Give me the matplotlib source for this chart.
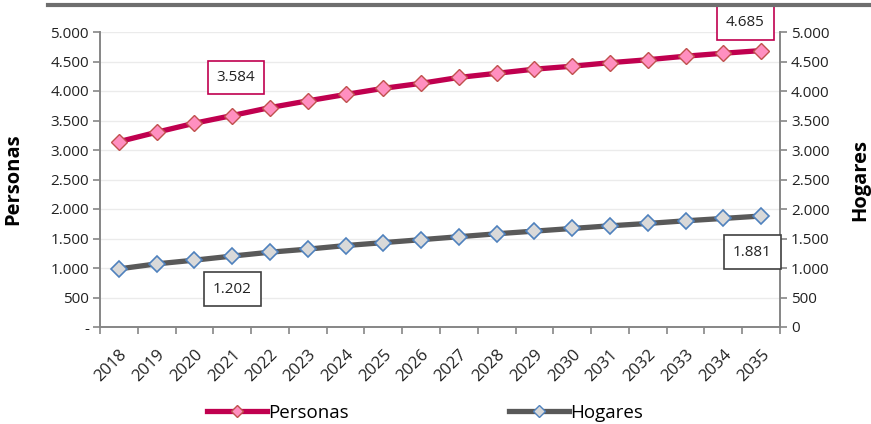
import matplotlib
matplotlib.use("Agg")
import matplotlib.pyplot as plt
from matplotlib.lines import Line2D
from matplotlib.ticker import FixedLocator

plt.rcParams['font.family'] = ['Open Sans', 'DejaVu Sans']

years = [str(y) for y in range(2018, 2036)]
personas = [3141, 3301, 3454, 3584, 3719, 3833, 3941, 4045, 4130, 4230,
            4300, 4370, 4420, 4480, 4530, 4590, 4640, 4685]
hogares = [985, 1070, 1133, 1202, 1268, 1320, 1380, 1430, 1480, 1530,
           1580, 1625, 1670, 1715, 1755, 1800, 1840, 1881]
yticks = [0, 500, 1000, 1500, 2000, 2500, 3000, 3500, 4000, 4500, 5000]
left_labels = ['-', '500', '1.000', '1.500', '2.000', '2.500', '3.000', '3.500', '4.000', '4.500', '5.000']
right_labels = ['0', '500', '1.000', '1.500', '2.000', '2.500', '3.000', '3.500', '4.000', '4.500', '5.000']

fig = plt.figure(figsize=(8.71, 4.24), dpi=100)
ax = fig.add_axes([100/871, 1-327/424, 680/871, 295/424])
ax2 = ax.twinx()

x = list(range(len(years)))
c_p = '#C0004F'
c_h = '#595959'
ax.plot(x, personas, color=c_p, lw=3.8, marker='D', markersize=8.5,
        markerfacecolor='#FF8FC0', markeredgecolor='#C0504D', markeredgewidth=1.0, zorder=3)
ax2.plot(x, hogares, color=c_h, lw=3.8, marker='D', markersize=8.5,
         markerfacecolor='#D9D9D9', markeredgecolor='#4F81BD', markeredgewidth=1.2, zorder=3)

for a in (ax, ax2):
    a.set_ylim(0, 5000)
    a.set_xlim(-0.5, len(years) - 0.5)
    a.set_yticks(yticks)
    a.spines['top'].set_visible(False)
    for s in ['left', 'right', 'bottom']:
        a.spines[s].set_color('#868686')
        a.spines[s].set_linewidth(1.2)

ax.set_yticklabels(left_labels, fontsize=11, color='#222222')
ax2.set_yticklabels(right_labels, fontsize=11, color='#222222')
ax.tick_params(axis='y', length=5, color='#868686', width=1.2, pad=3)
ax2.tick_params(axis='y', length=5, color='#868686', width=1.2, pad=3)
ax.grid(axis='y', color='#EBEBEB', lw=1.0)
ax.set_axisbelow(True)

ax.set_xticks(x)
ax.set_xticklabels(years, rotation=45, ha='right', rotation_mode='anchor', fontsize=12, color='#222222')
ax.tick_params(axis='x', length=0, pad=14)
ax.xaxis.set_minor_locator(FixedLocator([i - 0.5 for i in range(len(years) + 1)]))
ax.tick_params(axis='x', which='minor', length=5, color='#868686', width=1.2)
ax2.tick_params(axis='x', which='both', length=0)

ax.set_ylabel('Personas', fontsize=14.5, fontweight='bold')
ax.yaxis.set_label_coords(-0.113, 0.5)
ax2.set_ylabel('Hogares', fontsize=14.5, fontweight='bold', rotation=90)
ax2.yaxis.set_label_coords(1.103, 0.5)

# annotation boxes
def box(a, xi, yv, text, ec):
    a.text(xi, yv, text, fontsize=11, ha='center', va='center', color='#222222',
           bbox=dict(boxstyle='square,pad=0.6', fc='white', ec=ec, lw=1.2), zorder=5)

box(ax, 3.1, 4229, '3.584', c_p)
box(ax, 16.58, 5153, '4.685', c_p)
box(ax2, 3, 644, '1.202', '#404040')
box(ax2, 16.76, 1271, '1.881', '#404040')

# top rule
fig.add_artist(Line2D([48/871, 1.0], [1-5/424, 1-5/424], color='#6E6E6E', lw=3))

# legend
handles = [Line2D([], [], color=c_p, lw=3.8, marker='D', markersize=6.5,
                  markerfacecolor='#FF8FC0', markeredgecolor='#C0504D'),
           Line2D([], [], color=c_h, lw=3.8, marker='D', markersize=6.5,
                  markerfacecolor='#D9D9D9', markeredgecolor='#4F81BD')]
fig.legend(handles, ['Personas', 'Hogares'], loc='center', bbox_to_anchor=(425/871, 1-413/424),
           ncol=2, frameon=False, fontsize=13.5, handlelength=3.2, handletextpad=0.1,
           columnspacing=8.5)

fig.savefig('out.png', dpi=100)
